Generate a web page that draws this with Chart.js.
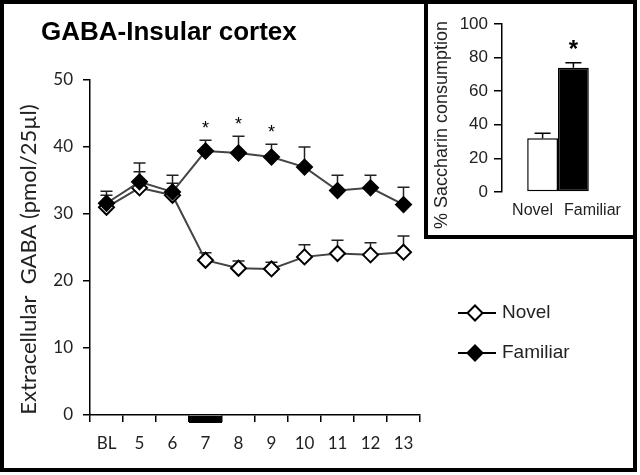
<!DOCTYPE html>
<html>
<head>
<meta charset="utf-8">
<script src="https://cdn.jsdelivr.net/npm/chart.js@4.4.0/dist/chart.umd.min.js"></script>
<style>
  body { margin: 0; background: #fff; }
  #page { position: relative; width: 640px; height: 475px; overflow: hidden; background: #fff; }
  #mainChart { position: absolute; left: 0; top: 0; }
  #insetBox { position: absolute; left: 424px; top: 0; width: 213px; height: 239px; box-sizing: border-box;
              border-left: 4px solid #000; border-bottom: 4px solid #000; background: #fff; }
  #insetChart { position: absolute; left: 424px; top: 0; }
  #frame { position: absolute; left: 0; top: 0; width: 637px; height: 472px; box-sizing: border-box;
           border: 4px solid #000; pointer-events: none; }
</style>
</head>
<body>
<div id="page">
  <canvas id="mainChart" width="640" height="475"></canvas>
  <div id="insetBox"></div>
  <canvas id="insetChart" width="210" height="235"></canvas>
  <div id="frame"></div>
</div>
<script>
// microdialysis sessions
const sessions = ["BL", "5", "6", "7", "8", "9", "10", "11", "12", "13"];
const novelGaba = [31.0, 33.9, 32.8, 23.1, 21.9, 21.8, 23.6, 24.1, 23.9, 24.3];
const novelSem = [1.8, 2.4, 1.8, 1.1, 1.1, 1.0, 1.8, 2.0, 1.8, 2.4];
const familiarGaba = [31.6, 34.8, 33.3, 39.4, 39.1, 38.5, 37.0, 33.5, 33.9, 31.4];
const familiarSem = [1.8, 2.8, 2.5, 1.6, 2.5, 1.9, 3.0, 2.3, 1.9, 2.6];
const gabaTicks = [0, 10, 20, 30, 40, 50];
const sigSessions = ["7", "8", "9"];
const tasteSession = "7";

// inset: saccharin consumption
const groups = ["Novel", "Familiar"];
const consumption = [32, 74];
const consumptionSem = [3, 3];
const consumptionTicks = [0, 20, 40, 60, 80, 100];
const sigGroup = "Familiar";

const calibriLike = "Lato, 'Open Sans', sans-serif";
const arialLike = "'Liberation Sans', Arial, sans-serif";
const ink = "#222";

function drawErrorBar(ctx, x, yFrom, yTo, capW) {
    ctx.beginPath();
    ctx.moveTo(x, yFrom);
    ctx.lineTo(x, yTo);
    ctx.moveTo(x - capW / 2, yTo);
    ctx.lineTo(x + capW / 2, yTo);
    ctx.stroke();
}

const mainDecor = {
    id: "mainDecor",
    beforeDatasetsDraw(chart) {
        const { ctx } = chart;
        const y = chart.scales.y;
        ctx.save();
        ctx.strokeStyle = ink;
        ctx.lineWidth = 1.5;
        chart.data.datasets.forEach((ds, i) => {
            chart.getDatasetMeta(i).data.forEach((pt, j) => {
                drawErrorBar(ctx, pt.x, pt.y, y.getPixelForValue(ds.data[j] + ds.errors[j]), 12);
            });
        });
        ctx.restore();
    },
    afterDraw(chart) {
        const { ctx, chartArea } = chart;
        const x = chart.scales.x;
        const y = chart.scales.y;
        ctx.save();

        // title
        ctx.fillStyle = "#000";
        ctx.font = "bold 26px " + arialLike;
        ctx.textAlign = "left";
        ctx.textBaseline = "alphabetic";
        ctx.fillText("GABA-Insular cortex", 41, 40);

        // y axis title
        ctx.save();
        ctx.translate(29, (chartArea.top + chartArea.bottom) / 2 + 12);
        ctx.rotate(-Math.PI / 2);
        ctx.textAlign = "center";
        ctx.textBaseline = "middle";
        ctx.fillStyle = ink;
        ctx.font = "22px " + calibriLike;
        ctx.fillText("Extracellular  GABA (pmol/25\u00b5l)", 0, 0);
        ctx.restore();

        // taste presentation bar under the axis
        const half = (x.getPixelForValue(1) - x.getPixelForValue(0)) / 2;
        const ti = sessions.indexOf(tasteSession);
        ctx.fillStyle = "#000";
        ctx.fillRect(x.getPixelForValue(ti) - half, chartArea.bottom + 1, half * 2, 7);

        // asterisks
        const fam = chart.data.datasets.find(d => d.label === "Familiar");
        ctx.font = "18px " + arialLike;
        ctx.textAlign = "center";
        ctx.fillStyle = "#000";
        sigSessions.forEach(s => {
            const i = sessions.indexOf(s);
            const capY = y.getPixelForValue(fam.data[i] + fam.errors[i]);
            ctx.fillText("*", x.getPixelForValue(i), capY - 6);
        });

        // legend
        const lx = chartArea.right + 38;
        let ly = chartArea.top + 233;
        ctx.font = "19px " + arialLike;
        ctx.textAlign = "left";
        ctx.textBaseline = "middle";
        ["Novel", "Familiar"].forEach(name => {
            const ds = chart.data.datasets.find(d => d.label === name);
            ctx.strokeStyle = "#000";
            ctx.lineWidth = 2;
            ctx.beginPath();
            ctx.moveTo(lx, ly);
            ctx.lineTo(lx + 38, ly);
            ctx.stroke();
            ctx.fillStyle = ds.pointBackgroundColor;
            ctx.strokeStyle = "#000";
            Chart.helpers.drawPoint(ctx, { pointStyle: "rectRot", radius: 7.5, borderWidth: 2 }, lx + 17, ly);
            ctx.fillStyle = ink;
            ctx.fillText(name, lx + 44, ly);
            ly += 40;
        });
        ctx.restore();
    }
};

new Chart(document.getElementById("mainChart"), {
    type: "line",
    data: {
        labels: sessions,
        datasets: [
            {
                label: "Familiar",
                data: familiarGaba,
                errors: familiarSem,
                borderColor: "#444",
                borderWidth: 2,
                pointStyle: "rectRot",
                pointRadius: 7.5,
                pointBorderWidth: 2,
                pointBorderColor: "#000",
                pointBackgroundColor: "#000"
            },
            {
                label: "Novel",
                data: novelGaba,
                errors: novelSem,
                borderColor: "#444",
                borderWidth: 2,
                pointStyle: "rectRot",
                pointRadius: 7.5,
                pointBorderWidth: 2,
                pointBorderColor: "#000",
                pointBackgroundColor: "#fff"
            }
        ]
    },
    options: {
        responsive: false,
        animation: false,
        devicePixelRatio: 1,
        layout: { padding: { top: 80, right: 220, left: 0, bottom: 0 } },
        plugins: { legend: { display: false }, tooltip: { enabled: false } },
        scales: {
            x: {
                offset: true,
                grid: { offset: true, drawOnChartArea: false, tickLength: 7, color: "#000", lineWidth: 1.5 },
                border: { color: "#000", width: 1.5 },
                ticks: { color: ink, font: { family: calibriLike, size: 17 }, padding: 11, maxRotation: 0 },
                afterFit: s => { s.height = 60; }
            },
            y: {
                min: gabaTicks[0],
                max: gabaTicks[gabaTicks.length - 1],
                afterBuildTicks: s => { s.ticks = gabaTicks.map(v => ({ value: v })); },
                grid: { drawOnChartArea: false, tickLength: 7, color: "#000", lineWidth: 1.5 },
                border: { color: "#000", width: 1.5 },
                ticks: { color: ink, font: { family: calibriLike, size: 17 }, padding: 10 },
                afterFit: s => { s.width = 90; }
            }
        }
    },
    plugins: [mainDecor]
});

const insetDecor = {
    id: "insetDecor",
    afterDatasetsDraw(chart) {
        const { ctx, chartArea } = chart;
        const y = chart.scales.y;
        ctx.save();
        ctx.strokeStyle = "#000";
        ctx.lineWidth = 1.5;
        chart.data.datasets.forEach((ds, i) => {
            const bar = chart.getDatasetMeta(i).data[0];
            const capY = y.getPixelForValue(ds.data[0] + ds.errors[0]);
            drawErrorBar(ctx, bar.x, bar.y, capY, 16);
            ctx.fillStyle = ink;
            ctx.font = "16px " + arialLike;
            ctx.textBaseline = "alphabetic";
            if (i === 0) {
                ctx.textAlign = "right";
                ctx.fillText(ds.label, bar.x + bar.width / 2 - 5, chartArea.bottom + 23);
            } else {
                ctx.textAlign = "left";
                ctx.fillText(ds.label, bar.x - bar.width / 2 + 6, chartArea.bottom + 23);
            }
            if (ds.label === sigGroup) {
                ctx.fillStyle = "#000";
                ctx.textAlign = "center";
                ctx.font = "bold 24px " + arialLike;
                ctx.fillText("*", bar.x, capY - 6);
            }
        });

        ctx.save();
        ctx.translate(18, (chartArea.top + chartArea.bottom) / 2 + 17);
        ctx.rotate(-Math.PI / 2);
        ctx.textAlign = "center";
        ctx.textBaseline = "middle";
        ctx.fillStyle = ink;
        ctx.font = "18px " + arialLike;
        ctx.fillText("% Saccharin consumption", 0, 0);
        ctx.restore();
        ctx.restore();
    }
};

new Chart(document.getElementById("insetChart"), {
    type: "bar",
    data: {
        labels: [""],
        datasets: groups.map((g, i) => ({
            label: g,
            data: [consumption[i]],
            errors: [consumptionSem[i]],
            backgroundColor: g === "Familiar" ? "#000" : "#fff",
            borderColor: "#000",
            borderWidth: 1.5,
            borderSkipped: false
        }))
    },
    options: {
        responsive: false,
        animation: false,
        devicePixelRatio: 1,
        categoryPercentage: 0.55,
        barPercentage: 1.0,
        layout: { padding: { top: 24, right: 20, left: 0, bottom: 43 } },
        plugins: { legend: { display: false }, tooltip: { enabled: false } },
        scales: {
            x: { display: false },
            y: {
                min: consumptionTicks[0],
                max: consumptionTicks[consumptionTicks.length - 1],
                afterBuildTicks: s => { s.ticks = consumptionTicks.map(v => ({ value: v })); },
                grid: { drawOnChartArea: false, tickLength: 8, color: "#000", lineWidth: 1.5 },
                border: { color: "#000", width: 1.5 },
                ticks: { color: ink, font: { family: arialLike, size: 17 }, padding: 6 },
                afterFit: s => { s.width = 78; }
            }
        }
    },
    plugins: [insetDecor]
});
</script>
</body>
</html>
